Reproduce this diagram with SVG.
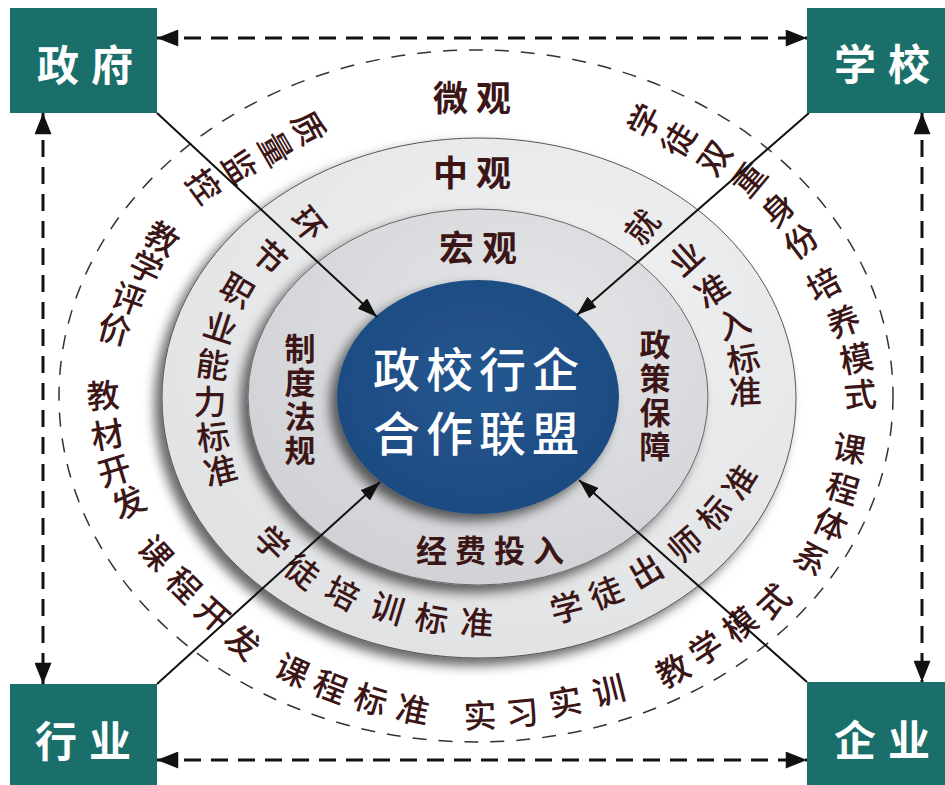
<svg xmlns="http://www.w3.org/2000/svg" width="945" height="785" viewBox="0 0 945 785">
<defs>
<style>
text{font-family:"Noto Sans CJK SC","Noto Sans",sans-serif;text-anchor:middle;dominant-baseline:central}
.box{fill:#1b6f6a}
.bt{fill:#fff;font-size:42px;font-weight:700;letter-spacing:12px}
.o{fill:#3c1616;font-size:33px;font-weight:500}
.m{fill:#3c1616;font-size:33px;font-weight:500}
.i{fill:#3c1616;font-size:31px;font-weight:700}
.v{writing-mode:vertical-rl;letter-spacing:3px}
.lv{fill:#3c1616;font-size:35px;font-weight:700;letter-spacing:8px}
.c{fill:#fff;font-size:47px;font-weight:500;letter-spacing:6px}
.dash{fill:none;stroke:#111;stroke-width:3;stroke-dasharray:17 10}
.sol{fill:none;stroke:#111;stroke-width:2}
</style>
<marker id="ah" viewBox="0 0 20 16" refX="20" refY="8" markerWidth="22" markerHeight="17" markerUnits="userSpaceOnUse" orient="auto-start-reverse">
<path d="M0,0 L20,8 L0,16 z" fill="#111"/>
</marker>
<marker id="as" viewBox="0 0 20 14" refX="20" refY="7" markerWidth="20" markerHeight="14" markerUnits="userSpaceOnUse" orient="auto">
<path d="M0,0 L20,7 L0,14 z" fill="#111"/>
</marker>
<filter id="sh" x="-20%" y="-20%" width="140%" height="140%">
<feGaussianBlur in="SourceAlpha" stdDeviation="6"/>
<feOffset dx="-7" dy="7" result="b"/>
<feFlood flood-color="#000" flood-opacity="0.6"/>
<feComposite in2="b" operator="in"/>
<feMerge><feMergeNode/><feMergeNode in="SourceGraphic"/></feMerge>
</filter>
<radialGradient id="g1" cx="0.6" cy="0.35" r="0.7">
<stop offset="0" stop-color="#f2f3f4"/>
<stop offset="1" stop-color="#dfe1e3"/>
</radialGradient>
<radialGradient id="g2" cx="0.6" cy="0.35" r="0.7">
<stop offset="0" stop-color="#e6e7e9"/>
<stop offset="1" stop-color="#cfd1d4"/>
</radialGradient>
<radialGradient id="g3" cx="0.5" cy="0.45" r="0.6">
<stop offset="0" stop-color="#24568f"/>
<stop offset="1" stop-color="#1c4a80"/>
</radialGradient>
</defs>
<rect width="945" height="785" fill="#fff"/>

<g id="rings">
<ellipse cx="476" cy="396" rx="417" ry="346" fill="none" stroke="#333" stroke-width="1.5" stroke-dasharray="14 12"/>
<ellipse id="ring-meso" cx="479" cy="398" rx="317" ry="260" fill="url(#g1)" stroke="#555" stroke-width="1" filter="url(#sh)"/>
<ellipse id="ring-macro" cx="478" cy="397" rx="230" ry="188" fill="url(#g2)" stroke="#666" stroke-width="1" filter="url(#sh)"/>
</g>

<g id="core">
<ellipse cx="478" cy="397" rx="141" ry="117" fill="url(#g3)" filter="url(#sh)"/>
<text class="c" x="479" y="366">政校行企</text>
<text class="c" x="479" y="430">合作联盟</text>
</g>

<g id="labels">
<text class="lv" x="476" y="95">微观</text>
<text class="lv" x="476" y="170">中观</text>
<text class="lv" x="482" y="245">宏观</text>
</g>

<g id="macro-texts">
<text class="i v" x="300" y="401">制度法规</text>
<text class="i v" x="655" y="397">政策保障</text>
<text class="i" x="494" y="548" style="letter-spacing:8px">经费投入</text>
</g>

<g id="meso-texts">
<text class="m" transform="translate(310,223) rotate(52)">环</text>
<text class="m" transform="translate(271,256) rotate(42)">节</text>
<text class="m" transform="translate(238,289) rotate(30)">职</text>
<text class="m" transform="translate(221,326) rotate(18)">业</text>
<text class="m" transform="translate(213,363) rotate(8)">能</text>
<text class="m" transform="translate(210,400) rotate(0)">力</text>
<text class="m" transform="translate(213,435) rotate(-7)">标</text>
<text class="m" transform="translate(220,469) rotate(-14)">准</text>

<text class="m" transform="translate(641,226) rotate(-52)">就</text>
<text class="m" transform="translate(685,257) rotate(-42)">业</text>
<text class="m" transform="translate(711,289) rotate(-32)">准</text>
<text class="m" transform="translate(733,322) rotate(-20)">入</text>
<text class="m" transform="translate(743,357) rotate(-10)">标</text>
<text class="m" transform="translate(745,390) rotate(-2)">准</text>

<text class="m" transform="translate(273,542) rotate(45)">学</text>
<text class="m" transform="translate(303,570) rotate(37)">徒</text>
<text class="m" transform="translate(343,592) rotate(27)">培</text>
<text class="m" transform="translate(388,607) rotate(17)">训</text>
<text class="m" transform="translate(432,617) rotate(10)">标</text>
<text class="m" transform="translate(477,621) rotate(4)">准</text>

<text class="m" transform="translate(566,606) rotate(-14)">学</text>
<text class="m" transform="translate(605,591) rotate(-22)">徒</text>
<text class="m" transform="translate(645,570) rotate(-31)">出</text>
<text class="m" transform="translate(684,543) rotate(-41)">师</text>
<text class="m" transform="translate(713,512) rotate(-50)">标</text>
<text class="m" transform="translate(738,481) rotate(-58)">准</text>
</g>

<g id="micro-texts">
<text class="o" transform="translate(310,127) rotate(62)">质</text>
<text class="o" transform="translate(277,148) rotate(60)">量</text>
<text class="o" transform="translate(241,166) rotate(57)">监</text>
<text class="o" transform="translate(205,185) rotate(54)">控</text>

<text class="o" transform="translate(163,237) rotate(30)">教</text>
<text class="o" transform="translate(147,266) rotate(26)">学</text>
<text class="o" transform="translate(129,297) rotate(20)">评</text>
<text class="o" transform="translate(115,328) rotate(15)">价</text>

<text class="o" transform="translate(103,394) rotate(-4)">教</text>
<text class="o" transform="translate(107,433) rotate(-10)">材</text>
<text class="o" transform="translate(114,469) rotate(-17)">开</text>
<text class="o" transform="translate(128,501) rotate(-25)">发</text>

<text class="o" transform="translate(157,552) rotate(48)">课</text>
<text class="o" transform="translate(185,584) rotate(45)">程</text>
<text class="o" transform="translate(214,613) rotate(42)">开</text>
<text class="o" transform="translate(244,641) rotate(39)">发</text>

<text class="o" transform="translate(293,669) rotate(25)">课</text>
<text class="o" transform="translate(331,685) rotate(21)">程</text>
<text class="o" transform="translate(371,698) rotate(17)">标</text>
<text class="o" transform="translate(413,708) rotate(12)">准</text>

<text class="o" transform="translate(480,714) rotate(-2)">实</text>
<text class="o" transform="translate(522,711) rotate(-6)">习</text>
<text class="o" transform="translate(565,700) rotate(-10)">实</text>
<text class="o" transform="translate(608,689) rotate(-14)">训</text>

<text class="o" transform="translate(672,669) rotate(-28)">教</text>
<text class="o" transform="translate(705,647) rotate(-33)">学</text>
<text class="o" transform="translate(739,623) rotate(-38)">模</text>
<text class="o" transform="translate(772,600) rotate(-43)">式</text>

<text class="o" transform="translate(850,447) rotate(10)">课</text>
<text class="o" transform="translate(843,487) rotate(17)">程</text>
<text class="o" transform="translate(831,523) rotate(25)">体</text>
<text class="o" transform="translate(812,557) rotate(33)">系</text>

<text class="o" transform="translate(823,283) rotate(-28)">培</text>
<text class="o" transform="translate(843,320) rotate(-20)">养</text>
<text class="o" transform="translate(856,357) rotate(-12)">模</text>
<text class="o" transform="translate(860,393) rotate(-4)">式</text>

<text class="o" transform="translate(643,120) rotate(-63)">学</text>
<text class="o" transform="translate(677,139) rotate(-59)">徒</text>
<text class="o" transform="translate(713,157) rotate(-55)">双</text>
<text class="o" transform="translate(748,178) rotate(-50)">重</text>
<text class="o" transform="translate(777,208) rotate(-44)">身</text>
<text class="o" transform="translate(800,240) rotate(-37)">份</text>
</g>

<g id="connectors">
<line class="dash" x1="157" y1="38" x2="807" y2="38" marker-start="url(#ah)" marker-end="url(#ah)"/>
<line class="dash" x1="157" y1="760" x2="807" y2="760" marker-start="url(#ah)" marker-end="url(#ah)"/>
<line class="dash" x1="43" y1="113" x2="43" y2="684" marker-start="url(#ah)" marker-end="url(#ah)"/>
<line class="dash" x1="922" y1="113" x2="922" y2="682" marker-start="url(#ah)" marker-end="url(#ah)"/>
<line class="sol" x1="157" y1="113" x2="377" y2="317" marker-end="url(#as)"/>
<line class="sol" x1="809" y1="113" x2="577" y2="315" marker-end="url(#as)"/>
<line class="sol" x1="157" y1="684" x2="380" y2="482" marker-end="url(#as)"/>
<line class="sol" x1="807" y1="682" x2="579" y2="480" marker-end="url(#as)"/>
</g>

<g id="node-gov">
<rect class="box" x="10" y="8" width="147" height="105"/>
<text class="bt" x="91" y="62">政府</text>
</g>
<g id="node-school">
<rect class="box" x="807" y="8" width="138" height="105"/>
<text class="bt" x="888" y="61">学校</text>
</g>
<g id="node-industry">
<rect class="box" x="10" y="684" width="147" height="101"/>
<text class="bt" x="89" y="738">行业</text>
</g>
<g id="node-enterprise">
<rect class="box" x="807" y="682" width="138" height="103"/>
<text class="bt" x="888" y="737">企业</text>
</g>
</svg>
